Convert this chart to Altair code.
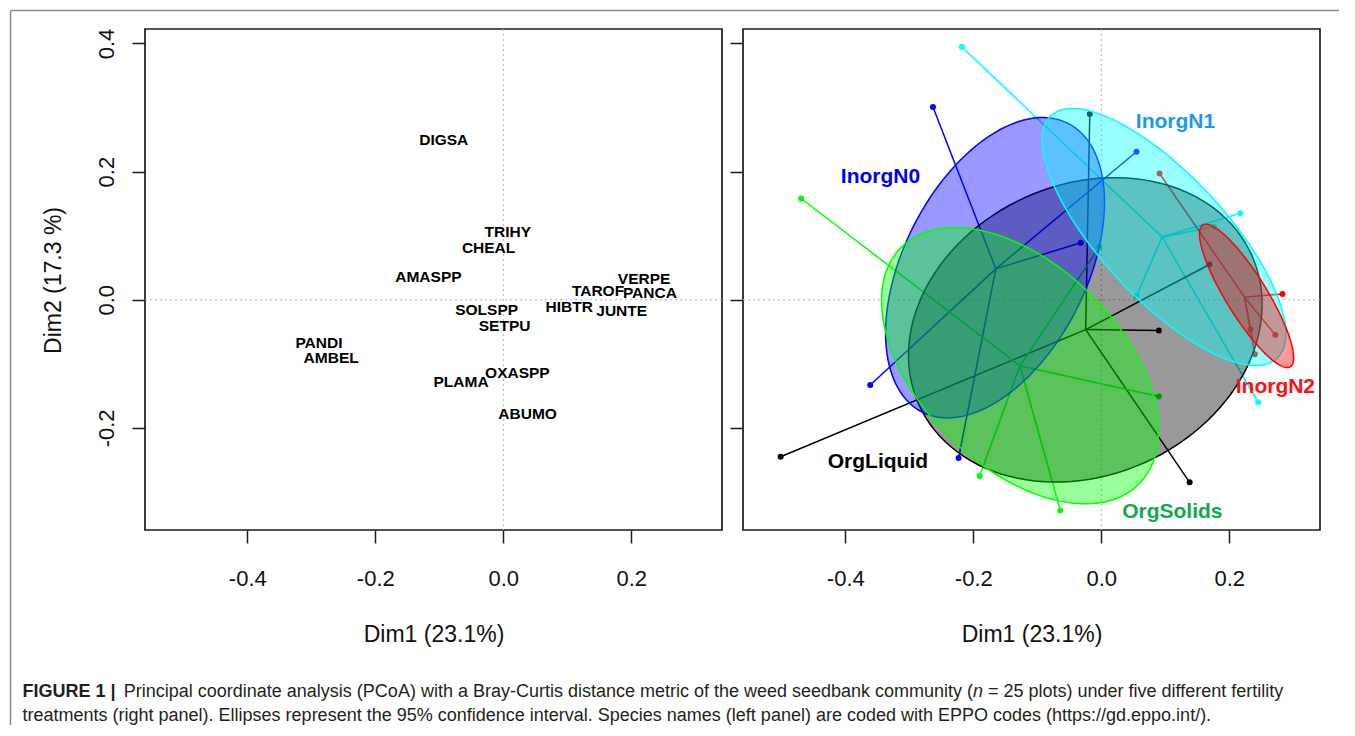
import altair as alt
import pandas as pd

# ---------------- data: left panel (species scores) ----------------
species = ["DIGSA", "TRIHY", "CHEAL", "AMASPP", "VERPE", "TAROF", "PANCA", "SOLSPP",
           "HIBTR", "JUNTE", "SETPU", "PANDI", "AMBEL", "OXASPP", "PLAMA", "ABUMO"]
species_dim1 = [-0.093, 0.007, -0.023, -0.117, 0.220, 0.148, 0.229, -0.026,
                0.103, 0.185, 0.002, -0.288, -0.269, 0.022, -0.066, 0.038]
species_dim2 = [0.250, 0.106, 0.081, 0.035, 0.033, 0.014, 0.011, -0.016,
                -0.011, -0.018, -0.041, -0.068, -0.091, -0.114, -0.129, -0.178]

# ---------------- data: right panel (plot scores) ----------------
groups = ["InorgN0", "InorgN1", "InorgN2", "OrgLiquid", "OrgSolids"]
plot_group = [g for g in groups for _ in range(5)]
plot_dim1 = [-0.263, 0.055, -0.032, -0.361, -0.223,
             -0.218, 0.217, 0.176, 0.055, 0.245,
             0.283, 0.233, 0.272, 0.240, 0.091,
             -0.501, 0.090, 0.138, -0.018, 0.169,
             -0.469, 0.090, -0.190, -0.064, -0.003]
plot_dim2 = [0.301, 0.231, 0.089, -0.133, -0.247,
             0.395, 0.135, 0.114, 0.006, -0.160,
             0.009, -0.046, -0.055, -0.085, 0.197,
             -0.245, -0.048, -0.285, 0.290, 0.055,
             0.158, -0.151, -0.275, -0.329, 0.082]

# 95% confidence ellipses: centre, semi-axes, rotation (degrees)
ell_cx = [-0.166, 0.098, 0.227, -0.025, -0.127]
ell_cy = [0.050, 0.098, 0.006, -0.047, -0.103]
ell_a = [0.2525, 0.259, 0.130, 0.285, 0.262]
ell_b = [0.143, 0.097, 0.032, 0.227, 0.157]
ell_angle = [63.2, -47.0, -58.3, 24.0, -44.8]
# drawing order of the filled ellipses (bottom -> top)
ell_order = [3, 0, 1, 2, 4]

# group label positions
label_dim1 = [-0.345, 0.116, 0.272, -0.349, 0.111]
label_dim2 = [0.192, 0.278, -0.136, -0.253, -0.331]

group_colors = ["#0000FF", "#00FFFF", "#FF0000", "#000000", "#00FF00"]
label_colors = ["#0000EE", "#1A9BEF", "#FF1010", "#000000", "#12A850"]

caption_bold = "FIGURE 1 |"
caption_1a = "Principal coordinate analysis (PCoA) with a Bray-Curtis distance metric of the weed seedbank community ("
caption_1n = "n"
caption_1b = "= 25 plots) under five different fertility"
caption_2 = ("treatments (right panel). Ellipses represent the 95% confidence interval. "
             "Species names (left panel) are coded with EPPO codes (https://gd.eppo.int/).")

# ---------------- layout constants ----------------
W, H = 577, 501
XD = [-0.5598, 0.3417]
YD = [-0.3594, 0.4226]
FONT = "Liberation Sans"
XS = alt.Scale(domain=XD, nice=False, zero=False)
YS = alt.Scale(domain=YD, nice=False, zero=False)
LABEL_EXPR = "(datum.value < 0 ? '-' : '') + format(abs(datum.value), '.1f')"

x_axis = alt.Axis(values=[-0.4, -0.2, 0.0, 0.2], labelExpr=LABEL_EXPR, grid=False,
                  domain=False, tickSize=13, tickWidth=1.5, tickColor="#1a1a1a",
                  labelFont=FONT, labelFontSize=22, labelColor="#111111", labelPadding=42,
                  labelBaseline="alphabetic", labelFlush=False, labelOverlap=False,
                  title="Dim1 (23.1%)", titleFont=FONT, titleFontSize=23,
                  titleFontWeight="normal", titleColor="#111111", titleX=288.5,
                  titleY=111.5, titleAlign="center", titleBaseline="alphabetic")
y_axis_left = alt.Axis(values=[-0.2, 0.0, 0.2, 0.4], labelExpr=LABEL_EXPR, grid=False,
                       domain=False, tickSize=13, tickWidth=1.5, tickColor="#1a1a1a",
                       labelFont=FONT, labelFontSize=22, labelColor="#111111",
                       labelAngle=-90, labelAlign="center", labelBaseline="alphabetic",
                       labelPadding=19, labelFlush=False, labelOverlap=False,
                       title="Dim2 (17.3 %)", titleFont=FONT, titleFontSize=23,
                       titleFontWeight="normal", titleColor="#111111", titleAngle=-90,
                       titleX=-85, titleY=251, titleAlign="center",
                       titleBaseline="alphabetic")
y_axis_right = alt.Axis(values=[-0.2, 0.0, 0.2, 0.4], labels=False, title=None,
                        grid=False, domain=False, tickSize=13, tickWidth=1.5,
                        tickColor="#1a1a1a")


def X(field, axis):
    return alt.X(field, type="quantitative", scale=XS, axis=axis)


def Y(field, axis):
    return alt.Y(field, type="quantitative", scale=YS, axis=axis)


zero_df = pd.DataFrame({"dim1": [0.0], "dim2": [0.0]})
one_df = pd.DataFrame({"k": [0]})


def zero_lines(yax):
    v = alt.Chart(zero_df).mark_rule(color="#b0b0b0", strokeDash=[2, 3], strokeWidth=1).encode(
        x=X("dim1", x_axis))
    h = alt.Chart(zero_df).mark_rule(color="#b0b0b0", strokeDash=[2, 3], strokeWidth=1).encode(
        y=Y("dim2", yax))
    return [v, h]


# ---------------- left panel ----------------
sp_df = pd.DataFrame({"species": species, "dim1": species_dim1, "dim2": species_dim2})
sp_text = alt.Chart(sp_df).mark_text(font=FONT, fontWeight="bold", fontSize=15.5,
                                     color="#000000").encode(
    x=X("dim1", x_axis), y=Y("dim2", y_axis_left), text="species:N")

frame_v = alt.Chart(one_df).mark_rule(color="#8a8a8a", strokeWidth=1.5).encode(
    x=alt.value(-134.5), y=alt.value(-18.5), y2=alt.value(696))
frame_h = alt.Chart(one_df).mark_rule(color="#8a8a8a", strokeWidth=1.5).encode(
    x=alt.value(-134.5), x2=alt.value(1194), y=alt.value(-18.5))


def cap(text, x, y, weight="normal", style="normal"):
    return alt.Chart(one_df).mark_text(text=text, align="left", baseline="alphabetic",
                                       font=FONT, fontSize=18, fontWeight=weight,
                                       fontStyle=style, color="#231F20").encode(
        x=alt.value(x), y=alt.value(y))


captions = [
    cap(caption_bold, -122.5, 667.75, weight="bold"),
    cap(caption_1a, -21.25, 667.75),
    cap(caption_1n, 828.0, 667.75, style="italic"),
    cap(caption_1b, 843.0, 667.75),
    cap(caption_2, -122.5, 691.75),
]

left = alt.layer(*zero_lines(y_axis_left), sp_text, frame_v, frame_h, *captions).properties(
    width=W, height=H)

# ---------------- right panel ----------------
col_of = dict(zip(groups, group_colors))
pts_df = pd.DataFrame({"group": plot_group, "dim1": plot_dim1, "dim2": plot_dim2})
pts_df["col"] = pts_df["group"].map(col_of)

spider = alt.Chart(pts_df).transform_joinaggregate(
    cx="mean(dim1)", cy="mean(dim2)", groupby=["group"]
).mark_rule(strokeWidth=1.5).encode(
    x=X("dim1", x_axis), y=Y("dim2", y_axis_right),
    x2=alt.X2("cx"), y2=alt.Y2("cy"),
    color=alt.Color("col:N", scale=None))

points = alt.Chart(pts_df).mark_circle(size=36, opacity=1).encode(
    x=X("dim1", x_axis), y=Y("dim2", y_axis_right),
    color=alt.Color("col:N", scale=None))


def ellipse(i):
    cx, cy, a, b = ell_cx[i], ell_cy[i], ell_a[i], ell_b[i]
    ph = f"({ell_angle[i]}*PI/180)"
    col = group_colors[i]
    return alt.Chart(alt.sequence(0, 360, 3, as_="deg")).transform_calculate(
        t="datum.deg*PI/180"
    ).transform_calculate(
        ex=f"{cx} + {a}*cos(datum.t)*cos({ph}) - {b}*sin(datum.t)*sin({ph})",
        ey=f"{cy} + {a}*cos(datum.t)*sin({ph}) + {b}*sin(datum.t)*cos({ph})",
    ).mark_line(fill=col, fillOpacity=0.4, stroke=col, strokeWidth=1.5,
                interpolate="linear-closed").encode(
        x=X("ex", x_axis), y=Y("ey", y_axis_right), order="deg:Q")


lab_df = pd.DataFrame({"group": groups, "dim1": label_dim1, "dim2": label_dim2,
                       "col": label_colors})
labels = alt.Chart(lab_df).mark_text(font=FONT, fontWeight="bold", fontSize=21).encode(
    x=X("dim1", x_axis), y=Y("dim2", y_axis_right), text="group:N",
    color=alt.Color("col:N", scale=None))

right = alt.layer(*zero_lines(y_axis_right), spider, points,
                  *[ellipse(i) for i in ell_order], labels).properties(width=W, height=H)

chart = alt.hconcat(left, right, spacing=21, bounds="flush").properties(
    padding=0
).configure_view(stroke="#1a1a1a", strokeWidth=1.7)

chart.save("out.html", embed_options={"renderer": "svg", "actions": False})
